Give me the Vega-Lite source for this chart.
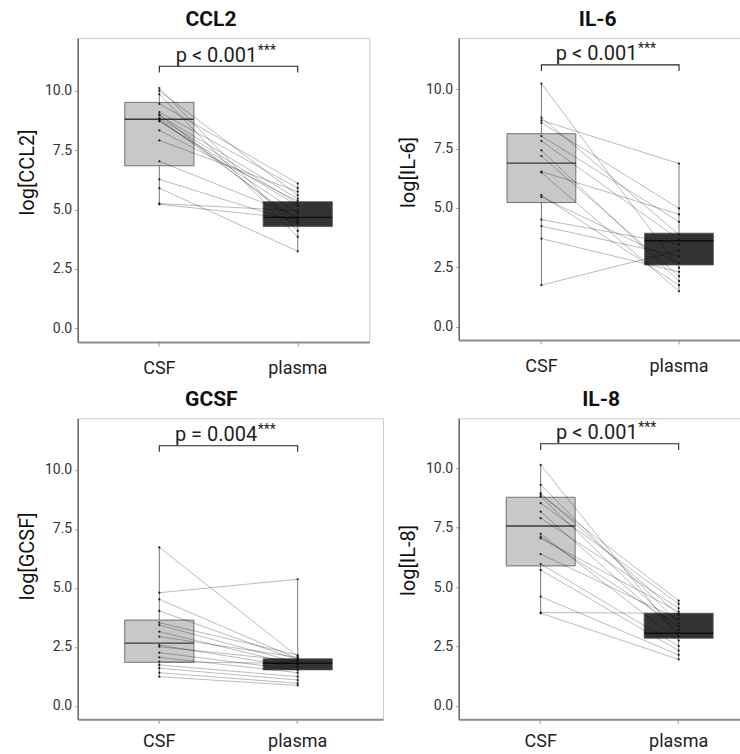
{
  "$schema": "https://vega.github.io/schema/vega-lite/v6.json",
  "autosize": {"type": "none"},
  "padding": {"left": 77.7, "top": 38, "right": 662.3, "bottom": 716},
  "background": "white",
  "bounds": "flush",
  "columns": 2,
  "spacing": {"row": 76.3, "column": 75},
  "datasets": {
    "pts": [
      {"m":"CCL2","id":1,"group":"CSF","value":10.11},{"m":"CCL2","id":1,"group":"plasma","value":4.10},
      {"m":"CCL2","id":2,"group":"CSF","value":10.00},{"m":"CCL2","id":2,"group":"plasma","value":5.60},
      {"m":"CCL2","id":3,"group":"CSF","value":9.85},{"m":"CCL2","id":3,"group":"plasma","value":3.85},
      {"m":"CCL2","id":4,"group":"CSF","value":9.45},{"m":"CCL2","id":4,"group":"plasma","value":6.10},
      {"m":"CCL2","id":5,"group":"CSF","value":9.10},{"m":"CCL2","id":5,"group":"plasma","value":5.90},
      {"m":"CCL2","id":6,"group":"CSF","value":9.00},{"m":"CCL2","id":6,"group":"plasma","value":4.40},
      {"m":"CCL2","id":7,"group":"CSF","value":8.96},{"m":"CCL2","id":7,"group":"plasma","value":5.45},
      {"m":"CCL2","id":8,"group":"CSF","value":8.85},{"m":"CCL2","id":8,"group":"plasma","value":5.25},
      {"m":"CCL2","id":9,"group":"CSF","value":8.80},{"m":"CCL2","id":9,"group":"plasma","value":4.55},
      {"m":"CCL2","id":10,"group":"CSF","value":8.75},{"m":"CCL2","id":10,"group":"plasma","value":4.85},
      {"m":"CCL2","id":11,"group":"CSF","value":8.71},{"m":"CCL2","id":11,"group":"plasma","value":5.15},
      {"m":"CCL2","id":12,"group":"CSF","value":8.33},{"m":"CCL2","id":12,"group":"plasma","value":5.35},
      {"m":"CCL2","id":13,"group":"CSF","value":7.91},{"m":"CCL2","id":13,"group":"plasma","value":5.75},
      {"m":"CCL2","id":14,"group":"CSF","value":7.03},{"m":"CCL2","id":14,"group":"plasma","value":4.70},
      {"m":"CCL2","id":15,"group":"CSF","value":6.27},{"m":"CCL2","id":15,"group":"plasma","value":4.45},
      {"m":"CCL2","id":16,"group":"CSF","value":5.90},{"m":"CCL2","id":16,"group":"plasma","value":3.24},
      {"m":"CCL2","id":17,"group":"CSF","value":5.25},{"m":"CCL2","id":17,"group":"plasma","value":4.95},
      {"m":"CCL2","id":18,"group":"CSF","value":5.22},{"m":"CCL2","id":18,"group":"plasma","value":4.60},

      {"m":"IL-6","id":1,"group":"CSF","value":10.24},{"m":"IL-6","id":1,"group":"plasma","value":2.48},
      {"m":"IL-6","id":2,"group":"CSF","value":8.81},{"m":"IL-6","id":2,"group":"plasma","value":3.88},
      {"m":"IL-6","id":3,"group":"CSF","value":8.69},{"m":"IL-6","id":3,"group":"plasma","value":6.87},
      {"m":"IL-6","id":4,"group":"CSF","value":8.59},{"m":"IL-6","id":4,"group":"plasma","value":4.98},
      {"m":"IL-6","id":5,"group":"CSF","value":8.03},{"m":"IL-6","id":5,"group":"plasma","value":4.42},
      {"m":"IL-6","id":6,"group":"CSF","value":7.82},{"m":"IL-6","id":6,"group":"plasma","value":3.67},
      {"m":"IL-6","id":7,"group":"CSF","value":7.43},{"m":"IL-6","id":7,"group":"plasma","value":1.92},
      {"m":"IL-6","id":8,"group":"CSF","value":7.19},{"m":"IL-6","id":8,"group":"plasma","value":2.13},
      {"m":"IL-6","id":9,"group":"CSF","value":6.53},{"m":"IL-6","id":9,"group":"plasma","value":4.73},
      {"m":"IL-6","id":10,"group":"CSF","value":6.49},{"m":"IL-6","id":10,"group":"plasma","value":1.49},
      {"m":"IL-6","id":11,"group":"CSF","value":5.54},{"m":"IL-6","id":11,"group":"plasma","value":1.75},
      {"m":"IL-6","id":12,"group":"CSF","value":5.46},{"m":"IL-6","id":12,"group":"plasma","value":2.69},
      {"m":"IL-6","id":13,"group":"CSF","value":4.51},{"m":"IL-6","id":13,"group":"plasma","value":3.46},
      {"m":"IL-6","id":14,"group":"CSF","value":4.24},{"m":"IL-6","id":14,"group":"plasma","value":2.97},
      {"m":"IL-6","id":15,"group":"CSF","value":3.71},{"m":"IL-6","id":15,"group":"plasma","value":2.31},
      {"m":"IL-6","id":16,"group":"CSF","value":1.75},{"m":"IL-6","id":16,"group":"plasma","value":3.21},

      {"m":"GCSF","id":1,"group":"CSF","value":6.72},{"m":"GCSF","id":1,"group":"plasma","value":2.10},
      {"m":"GCSF","id":2,"group":"CSF","value":4.80},{"m":"GCSF","id":2,"group":"plasma","value":5.37},
      {"m":"GCSF","id":3,"group":"CSF","value":4.52},{"m":"GCSF","id":3,"group":"plasma","value":2.00},
      {"m":"GCSF","id":4,"group":"CSF","value":4.03},{"m":"GCSF","id":4,"group":"plasma","value":1.95},
      {"m":"GCSF","id":5,"group":"CSF","value":3.53},{"m":"GCSF","id":5,"group":"plasma","value":2.16},
      {"m":"GCSF","id":6,"group":"CSF","value":3.43},{"m":"GCSF","id":6,"group":"plasma","value":1.84},
      {"m":"GCSF","id":7,"group":"CSF","value":3.15},{"m":"GCSF","id":7,"group":"plasma","value":1.74},
      {"m":"GCSF","id":8,"group":"CSF","value":2.94},{"m":"GCSF","id":8,"group":"plasma","value":2.06},
      {"m":"GCSF","id":9,"group":"CSF","value":2.58},{"m":"GCSF","id":9,"group":"plasma","value":1.64},
      {"m":"GCSF","id":10,"group":"CSF","value":2.51},{"m":"GCSF","id":10,"group":"plasma","value":1.90},
      {"m":"GCSF","id":11,"group":"CSF","value":2.26},{"m":"GCSF","id":11,"group":"plasma","value":1.53},
      {"m":"GCSF","id":12,"group":"CSF","value":2.06},{"m":"GCSF","id":12,"group":"plasma","value":1.41},
      {"m":"GCSF","id":13,"group":"CSF","value":1.88},{"m":"GCSF","id":13,"group":"plasma","value":1.80},
      {"m":"GCSF","id":14,"group":"CSF","value":1.74},{"m":"GCSF","id":14,"group":"plasma","value":1.24},
      {"m":"GCSF","id":15,"group":"CSF","value":1.60},{"m":"GCSF","id":15,"group":"plasma","value":1.10},
      {"m":"GCSF","id":16,"group":"CSF","value":1.41},{"m":"GCSF","id":16,"group":"plasma","value":0.96},
      {"m":"GCSF","id":17,"group":"CSF","value":1.24},{"m":"GCSF","id":17,"group":"plasma","value":0.87},

      {"m":"IL-8","id":1,"group":"CSF","value":10.14},{"m":"IL-8","id":1,"group":"plasma","value":2.92},
      {"m":"IL-8","id":2,"group":"CSF","value":9.30},{"m":"IL-8","id":2,"group":"plasma","value":3.48},
      {"m":"IL-8","id":3,"group":"CSF","value":8.95},{"m":"IL-8","id":3,"group":"plasma","value":3.83},
      {"m":"IL-8","id":4,"group":"CSF","value":8.88},{"m":"IL-8","id":4,"group":"plasma","value":4.43},
      {"m":"IL-8","id":5,"group":"CSF","value":8.81},{"m":"IL-8","id":5,"group":"plasma","value":3.20},
      {"m":"IL-8","id":6,"group":"CSF","value":8.53},{"m":"IL-8","id":6,"group":"plasma","value":4.29},
      {"m":"IL-8","id":7,"group":"CSF","value":8.17},{"m":"IL-8","id":7,"group":"plasma","value":3.06},
      {"m":"IL-8","id":8,"group":"CSF","value":7.90},{"m":"IL-8","id":8,"group":"plasma","value":4.11},
      {"m":"IL-8","id":9,"group":"CSF","value":7.24},{"m":"IL-8","id":9,"group":"plasma","value":2.75},
      {"m":"IL-8","id":10,"group":"CSF","value":7.12},{"m":"IL-8","id":10,"group":"plasma","value":3.34},
      {"m":"IL-8","id":11,"group":"CSF","value":7.05},{"m":"IL-8","id":11,"group":"plasma","value":3.97},
      {"m":"IL-8","id":12,"group":"CSF","value":6.39},{"m":"IL-8","id":12,"group":"plasma","value":3.65},
      {"m":"IL-8","id":13,"group":"CSF","value":5.97},{"m":"IL-8","id":13,"group":"plasma","value":2.52},
      {"m":"IL-8","id":14,"group":"CSF","value":5.72},{"m":"IL-8","id":14,"group":"plasma","value":2.33},
      {"m":"IL-8","id":15,"group":"CSF","value":4.60},{"m":"IL-8","id":15,"group":"plasma","value":2.15},
      {"m":"IL-8","id":16,"group":"CSF","value":3.93},{"m":"IL-8","id":16,"group":"plasma","value":3.90},
      {"m":"IL-8","id":17,"group":"CSF","value":3.90},{"m":"IL-8","id":17,"group":"plasma","value":1.96}
    ],
    "boxes": [
      {"m":"CCL2","group":"CSF","q1":6.84,"median":8.80,"q3":9.51},
      {"m":"CCL2","group":"plasma","q1":4.28,"median":4.67,"q3":5.33},
      {"m":"IL-6","group":"CSF","q1":5.23,"median":6.89,"q3":8.13},
      {"m":"IL-6","group":"plasma","q1":2.60,"median":3.62,"q3":3.94},
      {"m":"GCSF","group":"CSF","q1":1.85,"median":2.66,"q3":3.64},
      {"m":"GCSF","group":"plasma","q1":1.53,"median":1.81,"q3":2.00},
      {"m":"IL-8","group":"CSF","q1":5.89,"median":7.57,"q3":8.78},
      {"m":"IL-8","group":"plasma","q1":2.85,"median":3.06,"q3":3.90}
    ],
    "brk": [
      {"group":"CSF","y":10.77,"ord":1},
      {"group":"CSF","y":11.03,"ord":2},
      {"group":"plasma","y":11.03,"ord":3},
      {"group":"plasma","y":10.77,"ord":4}
    ],
    "ann": [
      {"m":"CCL2","group":"CSF","label":"p < 0.001","stars":"***","y":11.22},
      {"m":"IL-6","group":"CSF","label":"p < 0.001","stars":"***","y":11.22},
      {"m":"GCSF","group":"CSF","label":"p = 0.004","stars":"***","y":11.22},
      {"m":"IL-8","group":"CSF","label":"p < 0.001","stars":"***","y":11.22}
    ]
  },
  "concat": [
        {
          "width": 291.6, "height": 304,
          "title": {"text": "CCL2", "dx": -12.5},
          "encoding": {"x": {"field": "group", "type": "nominal", "title": null, "scale": {"type": "band", "domain": ["CSF", "plasma"], "paddingInner": 0.5, "paddingOuter": 0.3035, "align": 0.56, "round": false}}},
          "layer": [
            {"data": {"name": "pts"}, "transform": [{"filter": "datum.m === 'CCL2'"}, {"aggregate": [{"op": "min", "field": "value", "as": "lo"}, {"op": "max", "field": "value", "as": "hi"}], "groupby": ["group"]}],
             "mark": {"type": "rule", "color": "#555555", "strokeWidth": 0.8},
             "encoding": {"y": {"field": "lo", "type": "quantitative", "title": "log[CCL2]", "scale": {"domain": [-0.577, 12.22], "nice": false, "zero": false}, "axis": {"values": [0, 2.5, 5, 7.5, 10], "format": ".1f", "titleY": 134}}, "y2": {"field": "hi"}}},
            {"data": {"name": "boxes"}, "transform": [{"filter": "datum.m === 'CCL2'"}],
             "mark": {"type": "bar", "stroke": "#555555", "strokeWidth": 0.8},
             "encoding": {"y": {"field": "q1", "type": "quantitative", "title": "log[CCL2]", "scale": {"domain": [-0.577, 12.22], "nice": false, "zero": false}, "axis": {"values": [0, 2.5, 5, 7.5, 10], "format": ".1f", "titleY": 134}}, "y2": {"field": "q3"},
               "fill": {"field": "group", "type": "nominal", "scale": {"domain": ["CSF", "plasma"], "range": ["#c8c8c8", "#333333"]}, "legend": null}}},
            {"data": {"name": "boxes"}, "transform": [{"filter": "datum.m === 'CCL2'"}],
             "mark": {"type": "tick", "color": "#000000", "thickness": 1.3, "size": 69},
             "encoding": {"y": {"field": "median", "type": "quantitative", "title": "log[CCL2]", "scale": {"domain": [-0.577, 12.22], "nice": false, "zero": false}, "axis": {"values": [0, 2.5, 5, 7.5, 10], "format": ".1f", "titleY": 134}}}},
            {"data": {"name": "pts"}, "transform": [{"filter": "datum.m === 'CCL2'"}],
             "mark": {"type": "line", "color": "#000000", "strokeWidth": 0.6, "opacity": 0.45},
             "encoding": {"y": {"field": "value", "type": "quantitative", "title": "log[CCL2]", "scale": {"domain": [-0.577, 12.22], "nice": false, "zero": false}, "axis": {"values": [0, 2.5, 5, 7.5, 10], "format": ".1f", "titleY": 134}}, "detail": {"field": "id", "type": "nominal"}}},
            {"data": {"name": "pts"}, "transform": [{"filter": "datum.m === 'CCL2'"}],
             "mark": {"type": "point", "filled": true, "size": 5, "color": "#111111", "opacity": 0.9},
             "encoding": {"y": {"field": "value", "type": "quantitative", "title": "log[CCL2]", "scale": {"domain": [-0.577, 12.22], "nice": false, "zero": false}, "axis": {"values": [0, 2.5, 5, 7.5, 10], "format": ".1f", "titleY": 134}}}},
            {"data": {"name": "brk"},
             "mark": {"type": "line", "color": "#222222", "strokeWidth": 1.1},
             "encoding": {"y": {"field": "y", "type": "quantitative", "title": "log[CCL2]", "scale": {"domain": [-0.577, 12.22], "nice": false, "zero": false}, "axis": {"values": [0, 2.5, 5, 7.5, 10], "format": ".1f", "titleY": 134}}, "order": {"field": "ord", "type": "quantitative"}}},
            {"data": {"name": "ann"}, "transform": [{"filter": "datum.m === 'CCL2'"}],
             "mark": {"type": "text", "dx": 98, "align": "right", "baseline": "alphabetic", "fontSize": 20, "color": "#222222"},
             "encoding": {"y": {"field": "y", "type": "quantitative", "title": "log[CCL2]", "scale": {"domain": [-0.577, 12.22], "nice": false, "zero": false}, "axis": {"values": [0, 2.5, 5, 7.5, 10], "format": ".1f", "titleY": 134}}, "text": {"field": "label"}}},
            {"data": {"name": "ann"}, "transform": [{"filter": "datum.m === 'CCL2'"}],
             "mark": {"type": "text", "dx": 98.5, "dy": -7, "align": "left", "baseline": "alphabetic", "fontSize": 14, "color": "#222222"},
             "encoding": {"y": {"field": "y", "type": "quantitative", "title": "log[CCL2]", "scale": {"domain": [-0.577, 12.22], "nice": false, "zero": false}, "axis": {"values": [0, 2.5, 5, 7.5, 10], "format": ".1f", "titleY": 134}}, "text": {"field": "stars"}}}
          ]
        },
        {
          "width": 282, "height": 302,
          "title": {"text": "IL-6", "dx": -2},
          "encoding": {"x": {"field": "group", "type": "nominal", "title": null, "scale": {"type": "band", "domain": ["CSF", "plasma"], "paddingInner": 0.5, "paddingOuter": 0.2747, "align": 0.639, "round": false}}},
          "layer": [
            {"data": {"name": "pts"}, "transform": [{"filter": "datum.m === 'IL-6'"}, {"aggregate": [{"op": "min", "field": "value", "as": "lo"}, {"op": "max", "field": "value", "as": "hi"}], "groupby": ["group"]}],
             "mark": {"type": "rule", "color": "#555555", "strokeWidth": 0.8},
             "encoding": {"y": {"field": "lo", "type": "quantitative", "title": "log[IL-6]", "scale": {"domain": [-0.56, 12.16], "nice": false, "zero": false}, "axis": {"values": [0, 2.5, 5, 7.5, 10], "format": ".1f", "titleY": 134}}, "y2": {"field": "hi"}}},
            {"data": {"name": "boxes"}, "transform": [{"filter": "datum.m === 'IL-6'"}],
             "mark": {"type": "bar", "stroke": "#555555", "strokeWidth": 0.8},
             "encoding": {"y": {"field": "q1", "type": "quantitative", "title": "log[IL-6]", "scale": {"domain": [-0.56, 12.16], "nice": false, "zero": false}, "axis": {"values": [0, 2.5, 5, 7.5, 10], "format": ".1f", "titleY": 134}}, "y2": {"field": "q3"},
               "fill": {"field": "group", "type": "nominal", "scale": {"domain": ["CSF", "plasma"], "range": ["#c8c8c8", "#333333"]}, "legend": null}}},
            {"data": {"name": "boxes"}, "transform": [{"filter": "datum.m === 'IL-6'"}],
             "mark": {"type": "tick", "color": "#000000", "thickness": 1.3, "size": 69},
             "encoding": {"y": {"field": "median", "type": "quantitative", "title": "log[IL-6]", "scale": {"domain": [-0.56, 12.16], "nice": false, "zero": false}, "axis": {"values": [0, 2.5, 5, 7.5, 10], "format": ".1f", "titleY": 134}}}},
            {"data": {"name": "pts"}, "transform": [{"filter": "datum.m === 'IL-6'"}],
             "mark": {"type": "line", "color": "#000000", "strokeWidth": 0.6, "opacity": 0.45},
             "encoding": {"y": {"field": "value", "type": "quantitative", "title": "log[IL-6]", "scale": {"domain": [-0.56, 12.16], "nice": false, "zero": false}, "axis": {"values": [0, 2.5, 5, 7.5, 10], "format": ".1f", "titleY": 134}}, "detail": {"field": "id", "type": "nominal"}}},
            {"data": {"name": "pts"}, "transform": [{"filter": "datum.m === 'IL-6'"}],
             "mark": {"type": "point", "filled": true, "size": 5, "color": "#111111", "opacity": 0.9},
             "encoding": {"y": {"field": "value", "type": "quantitative", "title": "log[IL-6]", "scale": {"domain": [-0.56, 12.16], "nice": false, "zero": false}, "axis": {"values": [0, 2.5, 5, 7.5, 10], "format": ".1f", "titleY": 134}}}},
            {"data": {"name": "brk"},
             "mark": {"type": "line", "color": "#222222", "strokeWidth": 1.1},
             "encoding": {"y": {"field": "y", "type": "quantitative", "title": "log[IL-6]", "scale": {"domain": [-0.56, 12.16], "nice": false, "zero": false}, "axis": {"values": [0, 2.5, 5, 7.5, 10], "format": ".1f", "titleY": 134}}, "order": {"field": "ord", "type": "quantitative"}}},
            {"data": {"name": "ann"}, "transform": [{"filter": "datum.m === 'IL-6'"}],
             "mark": {"type": "text", "dx": 96, "align": "right", "baseline": "alphabetic", "fontSize": 20, "color": "#222222"},
             "encoding": {"y": {"field": "y", "type": "quantitative", "title": "log[IL-6]", "scale": {"domain": [-0.56, 12.16], "nice": false, "zero": false}, "axis": {"values": [0, 2.5, 5, 7.5, 10], "format": ".1f", "titleY": 134}}, "text": {"field": "label"}}},
            {"data": {"name": "ann"}, "transform": [{"filter": "datum.m === 'IL-6'"}],
             "mark": {"type": "text", "dx": 96.5, "dy": -7, "align": "left", "baseline": "alphabetic", "fontSize": 14, "color": "#222222"},
             "encoding": {"y": {"field": "y", "type": "quantitative", "title": "log[IL-6]", "scale": {"domain": [-0.56, 12.16], "nice": false, "zero": false}, "axis": {"values": [0, 2.5, 5, 7.5, 10], "format": ".1f", "titleY": 134}}, "text": {"field": "stars"}}}
          ]
        },
        {
          "width": 305.3, "height": 301,
          "title": {"text": "GCSF", "dx": -19},
          "encoding": {"x": {"field": "group", "type": "nominal", "title": null, "axis": {"labelPadding": 9}, "scale": {"type": "band", "domain": ["CSF", "plasma"], "paddingInner": 0.5, "paddingOuter": 0.353, "align": 0.481, "round": false}}},
          "layer": [
            {"data": {"name": "pts"}, "transform": [{"filter": "datum.m === 'GCSF'"}, {"aggregate": [{"op": "min", "field": "value", "as": "lo"}, {"op": "max", "field": "value", "as": "hi"}], "groupby": ["group"]}],
             "mark": {"type": "rule", "color": "#555555", "strokeWidth": 0.8},
             "encoding": {"y": {"field": "lo", "type": "quantitative", "title": "log[GCSF]", "scale": {"domain": [-0.564, 12.19], "nice": false, "zero": false}, "axis": {"values": [0, 2.5, 5, 7.5, 10], "format": ".1f", "titleY": 137.5}}, "y2": {"field": "hi"}}},
            {"data": {"name": "boxes"}, "transform": [{"filter": "datum.m === 'GCSF'"}],
             "mark": {"type": "bar", "stroke": "#555555", "strokeWidth": 0.8},
             "encoding": {"y": {"field": "q1", "type": "quantitative", "title": "log[GCSF]", "scale": {"domain": [-0.564, 12.19], "nice": false, "zero": false}, "axis": {"values": [0, 2.5, 5, 7.5, 10], "format": ".1f", "titleY": 137.5}}, "y2": {"field": "q3"},
               "fill": {"field": "group", "type": "nominal", "scale": {"domain": ["CSF", "plasma"], "range": ["#c8c8c8", "#333333"]}, "legend": null}}},
            {"data": {"name": "boxes"}, "transform": [{"filter": "datum.m === 'GCSF'"}],
             "mark": {"type": "tick", "color": "#000000", "thickness": 1.3, "size": 69},
             "encoding": {"y": {"field": "median", "type": "quantitative", "title": "log[GCSF]", "scale": {"domain": [-0.564, 12.19], "nice": false, "zero": false}, "axis": {"values": [0, 2.5, 5, 7.5, 10], "format": ".1f", "titleY": 137.5}}}},
            {"data": {"name": "pts"}, "transform": [{"filter": "datum.m === 'GCSF'"}],
             "mark": {"type": "line", "color": "#000000", "strokeWidth": 0.6, "opacity": 0.45},
             "encoding": {"y": {"field": "value", "type": "quantitative", "title": "log[GCSF]", "scale": {"domain": [-0.564, 12.19], "nice": false, "zero": false}, "axis": {"values": [0, 2.5, 5, 7.5, 10], "format": ".1f", "titleY": 137.5}}, "detail": {"field": "id", "type": "nominal"}}},
            {"data": {"name": "pts"}, "transform": [{"filter": "datum.m === 'GCSF'"}],
             "mark": {"type": "point", "filled": true, "size": 5, "color": "#111111", "opacity": 0.9},
             "encoding": {"y": {"field": "value", "type": "quantitative", "title": "log[GCSF]", "scale": {"domain": [-0.564, 12.19], "nice": false, "zero": false}, "axis": {"values": [0, 2.5, 5, 7.5, 10], "format": ".1f", "titleY": 137.5}}}},
            {"data": {"name": "brk"},
             "mark": {"type": "line", "color": "#222222", "strokeWidth": 1.1},
             "encoding": {"y": {"field": "y", "type": "quantitative", "title": "log[GCSF]", "scale": {"domain": [-0.564, 12.19], "nice": false, "zero": false}, "axis": {"values": [0, 2.5, 5, 7.5, 10], "format": ".1f", "titleY": 137.5}}, "order": {"field": "ord", "type": "quantitative"}}},
            {"data": {"name": "ann"}, "transform": [{"filter": "datum.m === 'GCSF'"}],
             "mark": {"type": "text", "dx": 98, "align": "right", "baseline": "alphabetic", "fontSize": 20, "color": "#222222"},
             "encoding": {"y": {"field": "y", "type": "quantitative", "title": "log[GCSF]", "scale": {"domain": [-0.564, 12.19], "nice": false, "zero": false}, "axis": {"values": [0, 2.5, 5, 7.5, 10], "format": ".1f", "titleY": 137.5}}, "text": {"field": "label"}}},
            {"data": {"name": "ann"}, "transform": [{"filter": "datum.m === 'GCSF'"}],
             "mark": {"type": "text", "dx": 98.5, "dy": -7, "align": "left", "baseline": "alphabetic", "fontSize": 14, "color": "#222222"},
             "encoding": {"y": {"field": "y", "type": "quantitative", "title": "log[GCSF]", "scale": {"domain": [-0.564, 12.19], "nice": false, "zero": false}, "axis": {"values": [0, 2.5, 5, 7.5, 10], "format": ".1f", "titleY": 137.5}}, "text": {"field": "stars"}}}
          ]
        },
        {
          "width": 282.7, "height": 301,
          "title": {"text": "IL-8", "dx": 1},
          "encoding": {"x": {"field": "group", "type": "nominal", "title": null, "axis": {"labelPadding": 9}, "scale": {"type": "band", "domain": ["CSF", "plasma"], "paddingInner": 0.5, "paddingOuter": 0.2743, "align": 0.627, "round": false}}},
          "layer": [
            {"data": {"name": "pts"}, "transform": [{"filter": "datum.m === 'IL-8'"}, {"aggregate": [{"op": "min", "field": "value", "as": "lo"}, {"op": "max", "field": "value", "as": "hi"}], "groupby": ["group"]}],
             "mark": {"type": "rule", "color": "#555555", "strokeWidth": 0.8},
             "encoding": {"y": {"field": "lo", "type": "quantitative", "title": "log[IL-8]", "scale": {"domain": [-0.56, 12.1], "nice": false, "zero": false}, "axis": {"values": [0, 2.5, 5, 7.5, 10], "format": ".1f", "titleY": 141.7}}, "y2": {"field": "hi"}}},
            {"data": {"name": "boxes"}, "transform": [{"filter": "datum.m === 'IL-8'"}],
             "mark": {"type": "bar", "stroke": "#555555", "strokeWidth": 0.8},
             "encoding": {"y": {"field": "q1", "type": "quantitative", "title": "log[IL-8]", "scale": {"domain": [-0.56, 12.1], "nice": false, "zero": false}, "axis": {"values": [0, 2.5, 5, 7.5, 10], "format": ".1f", "titleY": 141.7}}, "y2": {"field": "q3"},
               "fill": {"field": "group", "type": "nominal", "scale": {"domain": ["CSF", "plasma"], "range": ["#c8c8c8", "#333333"]}, "legend": null}}},
            {"data": {"name": "boxes"}, "transform": [{"filter": "datum.m === 'IL-8'"}],
             "mark": {"type": "tick", "color": "#000000", "thickness": 1.3, "size": 69},
             "encoding": {"y": {"field": "median", "type": "quantitative", "title": "log[IL-8]", "scale": {"domain": [-0.56, 12.1], "nice": false, "zero": false}, "axis": {"values": [0, 2.5, 5, 7.5, 10], "format": ".1f", "titleY": 141.7}}}},
            {"data": {"name": "pts"}, "transform": [{"filter": "datum.m === 'IL-8'"}],
             "mark": {"type": "line", "color": "#000000", "strokeWidth": 0.6, "opacity": 0.45},
             "encoding": {"y": {"field": "value", "type": "quantitative", "title": "log[IL-8]", "scale": {"domain": [-0.56, 12.1], "nice": false, "zero": false}, "axis": {"values": [0, 2.5, 5, 7.5, 10], "format": ".1f", "titleY": 141.7}}, "detail": {"field": "id", "type": "nominal"}}},
            {"data": {"name": "pts"}, "transform": [{"filter": "datum.m === 'IL-8'"}],
             "mark": {"type": "point", "filled": true, "size": 5, "color": "#111111", "opacity": 0.9},
             "encoding": {"y": {"field": "value", "type": "quantitative", "title": "log[IL-8]", "scale": {"domain": [-0.56, 12.1], "nice": false, "zero": false}, "axis": {"values": [0, 2.5, 5, 7.5, 10], "format": ".1f", "titleY": 141.7}}}},
            {"data": {"name": "brk"},
             "mark": {"type": "line", "color": "#222222", "strokeWidth": 1.1},
             "encoding": {"y": {"field": "y", "type": "quantitative", "title": "log[IL-8]", "scale": {"domain": [-0.56, 12.1], "nice": false, "zero": false}, "axis": {"values": [0, 2.5, 5, 7.5, 10], "format": ".1f", "titleY": 141.7}}, "order": {"field": "ord", "type": "quantitative"}}},
            {"data": {"name": "ann"}, "transform": [{"filter": "datum.m === 'IL-8'"}],
             "mark": {"type": "text", "dx": 97, "align": "right", "baseline": "alphabetic", "fontSize": 20, "color": "#222222"},
             "encoding": {"y": {"field": "y", "type": "quantitative", "title": "log[IL-8]", "scale": {"domain": [-0.56, 12.1], "nice": false, "zero": false}, "axis": {"values": [0, 2.5, 5, 7.5, 10], "format": ".1f", "titleY": 141.7}}, "text": {"field": "label"}}},
            {"data": {"name": "ann"}, "transform": [{"filter": "datum.m === 'IL-8'"}],
             "mark": {"type": "text", "dx": 97.5, "dy": -7, "align": "left", "baseline": "alphabetic", "fontSize": 14, "color": "#222222"},
             "encoding": {"y": {"field": "y", "type": "quantitative", "title": "log[IL-8]", "scale": {"domain": [-0.56, 12.1], "nice": false, "zero": false}, "axis": {"values": [0, 2.5, 5, 7.5, 10], "format": ".1f", "titleY": 141.7}}, "text": {"field": "stars"}}}
          ]
        }
  ],
  "config": {
    "font": "Roboto",
    "view": {"stroke": "#cccccc", "strokeWidth": 1},
    "title": {"fontSize": 21, "fontWeight": "bold", "color": "#111111", "anchor": "middle", "offset": 8, "font": "Roboto"},
    "axisX": {"labelFontSize": 18, "labelColor": "#222222", "labelPadding": 13, "tickSize": 4, "tickColor": "#999999", "domainColor": "#8c8c8c", "domainWidth": 2, "labelAngle": 0, "grid": false, "labelFont": "Roboto"},
    "axisY": {"labelFontSize": 14, "labelColor": "#333333", "labelPadding": 3, "tickSize": 3, "tickColor": "#999999", "domainColor": "#555555", "domainWidth": 1.3, "titleFontSize": 20, "titleFontWeight": "normal", "titleColor": "#111111", "titlePadding": 7, "grid": false, "labelFont": "Roboto", "titleFont": "Roboto"}
  }
}
